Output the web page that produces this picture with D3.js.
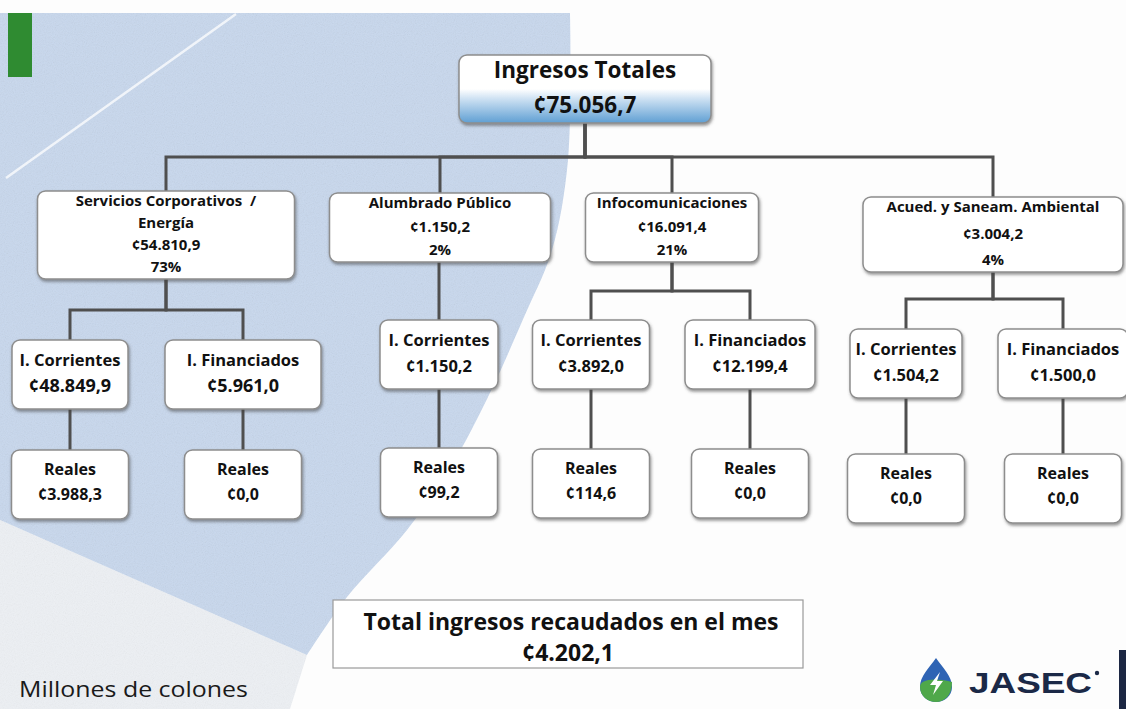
<!DOCTYPE html>
<html>
<head>
<meta charset="utf-8">
<script src="https://cdn.jsdelivr.net/npm/d3@7"></script>
<style>
  html, body { margin: 0; padding: 0; background: #fdfdfd; }
  svg { display: block; }
</style>
</head>
<body>
<svg id="chart"></svg>
<script>
var width = 1126;
var height = 709;

// ---- data (millones de colones) ----
var totalIngresos = 75056.7;
var totalRecaudado = 4202.1;

var groups = ["Servicios Corporativos  /\nEnergía", "Alumbrado Público", "Infocomunicaciones", "Acued. y Saneam. Ambiental"];
var groupTotals = [54810.9, 1150.2, 16091.4, 3004.2];
var groupShares = [73, 2, 21, 4];

var corrientes = [48849.9, 1150.2, 3892.0, 1504.2];
var financiados = [5961.0, null, 12199.4, 1500.0];     // null = no box
var realesCorrientes = [3988.3, 99.2, 114.6, 0.0];
var realesFinanciados = [0.0, null, 0.0, 0.0];

// ---- layout (kept apart from the data) ----
var root_box = { cx: 585, top: 55, w: 252, h: 68, barY: 157 };
var groupCx = [166, 440, 672, 993];
var groupW = [257, 221, 173, 260];
var groupTop = [191, 193, 193, 197];
var groupH = [88, 69, 69, 75];
var groupBarY = [310, null, 291, 299];
var leafCx = [[70, 243], [439], [591, 750], [906, 1063]];
var leafW = [[116, 156], [118], [117, 130], [112, 130]];
var leafTop = [340, 320, 320, 329];
var leafValueSize = [18, 16.5, 16.5, 16.5];
var realesTop = [450, 448, 449, 454];
var realesW = 117;
var boxH = 69;

var es = d3.formatLocale({ decimal: ",", thousands: ".", grouping: [3], currency: ["¢", ""] });
var money = es.format("$,.1f");

// build the tree from the arrays
var treeData = {
  kind: "root", lines: ["Ingresos Totales", money(totalIngresos)],
  children: groups.map(function(g, i) {
    var kids = [{ kind: "leaf", gi: i, li: 0, lines: ["I. Corrientes", money(corrientes[i])],
                  children: [{ kind: "reales", gi: i, li: 0, lines: ["Reales", money(realesCorrientes[i])] }] }];
    if (financiados[i] != null) {
      kids.push({ kind: "leaf", gi: i, li: 1, lines: ["I. Financiados", money(financiados[i])],
                  children: [{ kind: "reales", gi: i, li: 1, lines: ["Reales", money(realesFinanciados[i])] }] });
    }
    return { kind: "group", gi: i,
             lines: g.split("\n").concat([money(groupTotals[i]), groupShares[i] + "%"]),
             children: kids };
  })
};

var root = d3.hierarchy(treeData);

// place every node
root.each(function(n) {
  var d = n.data;
  if (d.kind === "root") {
    n.x = root_box.cx; n.y = root_box.top; n.w = root_box.w; n.h = root_box.h; n.barY = root_box.barY;
  } else if (d.kind === "group") {
    n.x = groupCx[d.gi]; n.y = groupTop[d.gi]; n.w = groupW[d.gi]; n.h = groupH[d.gi]; n.barY = groupBarY[d.gi];
  } else if (d.kind === "leaf") {
    n.x = leafCx[d.gi][d.li]; n.y = leafTop[d.gi]; n.w = leafW[d.gi][d.li]; n.h = boxH; n.barY = null;
  } else {
    n.x = leafCx[d.gi][d.li]; n.y = realesTop[d.gi]; n.w = realesW; n.h = boxH;
  }
});

var svg = d3.select("#chart").attr("width", width).attr("height", height);
var defs = svg.append("defs");

var shadow = defs.append("filter").attr("id", "shadow")
  .attr("x", "-10%").attr("y", "-10%").attr("width", "130%").attr("height", "140%");
shadow.append("feDropShadow").attr("dx", 1).attr("dy", 2).attr("stdDeviation", 1.4)
  .attr("flood-color", "#404040").attr("flood-opacity", 0.55);

var noise = defs.append("filter").attr("id", "noise").attr("x", 0).attr("y", 0).attr("width", "100%").attr("height", "100%");
noise.append("feTurbulence").attr("type", "fractalNoise").attr("baseFrequency", 0.9).attr("numOctaves", 2).attr("result", "t");
noise.append("feColorMatrix").attr("type", "saturate").attr("values", 0).attr("in", "t").attr("result", "g");
noise.append("feComposite").attr("in", "g").attr("in2", "SourceGraphic").attr("operator", "in");

var grad = defs.append("linearGradient").attr("id", "topgrad").attr("x1", 0).attr("y1", 0).attr("x2", 0).attr("y2", 1);
grad.append("stop").attr("offset", "0%").attr("stop-color", "#ffffff");
grad.append("stop").attr("offset", "50%").attr("stop-color", "#ffffff");
grad.append("stop").attr("offset", "64%").attr("stop-color", "#cfe2f3");
grad.append("stop").attr("offset", "100%").attr("stop-color", "#5f9fd3");

// ---- background ----
var line = d3.line().curve(d3.curveCatmullRom);
var blueEdge = [[570, 13], [568, 160], [552, 250], [524, 317], [488, 397], [453, 463], [407, 530], [347, 597], [307, 655]];

svg.append("rect").attr("width", width).attr("height", height).attr("fill", "#fdfdfd");
svg.append("path").attr("d", "M0,520L307,655L290,709L0,709Z").attr("fill", "#edf0f4");
var bluePath = "M0,13" + line(blueEdge).replace(/^M/, "L") + "L0,520Z";
svg.append("path").attr("d", bluePath).attr("fill", "#c8d8ee");
svg.append("path").attr("d", bluePath).attr("fill", "#fff").attr("filter", "url(#noise)").attr("opacity", 0.18);
svg.append("path").attr("d", "M0,709L0,520L307,655L290,709Z").attr("fill", "#fff").attr("filter", "url(#noise)").attr("opacity", 0.12);
svg.append("line").attr("x1", 6).attr("y1", 178).attr("x2", 236).attr("y2", 14)
  .attr("stroke", "#ffffff").attr("stroke-width", 2.5).attr("opacity", 0.75);
svg.append("rect").attr("x", 8).attr("y", 13).attr("width", 24).attr("height", 64).attr("fill", "#2f8b31");

// ---- connectors ----
var linkG = svg.append("g").attr("fill", "none").attr("stroke", "#4f4f4f").attr("stroke-width", 3);
root.links().forEach(function(l) {
  var s = l.source, t = l.target;
  var p = d3.path();
  p.moveTo(s.x, s.y + s.h);
  if (s.barY != null) {
    p.lineTo(s.x, s.barY);
    p.lineTo(t.x, s.barY);
  } else {
    p.lineTo(t.x, s.y + s.h);
  }
  p.lineTo(t.x, t.y);
  linkG.append("path").attr("d", p.toString());
});

// ---- boxes ----
var fontSize = { root: 22.5, group: 15, leaf: 16.5, reales: 16 };
var fontFamily = "'Open Sans', Lato, sans-serif";

var node = svg.selectAll("g.node")
  .data(root.descendants())
  .enter().append("g")
    .attr("class", "node")
    .attr("transform", function(d) { return "translate(" + (d.x - d.w / 2) + "," + d.y + ")"; });

node.append("rect")
  .attr("width", function(d) { return d.w; })
  .attr("height", function(d) { return d.h; })
  .attr("rx", 8)
  .attr("fill", function(d) { return d.data.kind === "root" ? "url(#topgrad)" : "#fff"; })
  .attr("stroke", "#8d8d8d")
  .attr("stroke-width", 1.5)
  .attr("filter", "url(#shadow)");

node.each(function(d) {
  var g = d3.select(this);
  var lines = d.data.lines;
  var kind = d.data.kind;
  var first, last;
  if (kind === "root") { first = 23; last = 58; }
  else if (kind === "group") { first = 15; last = d.h - 7; }
  else if (kind === "leaf") { first = 26; last = 52; }
  else { first = 25; last = 50; }
  var step = lines.length > 1 ? (last - first) / (lines.length - 1) : 0;
  lines.forEach(function(t, i) {
    var size = fontSize[kind];
    if (kind === "leaf" && i === 1) size = leafValueSize[d.data.gi];
    g.append("text")
      .attr("x", d.w / 2)
      .attr("y", first + i * step)
      .attr("text-anchor", "middle")
      .attr("font-family", fontFamily)
      .attr("font-weight", 700)
      .attr("font-size", size)
      .attr("fill", "#111")
      .style("white-space", "pre")
      .text(t);
  });
});

// ---- total recaudado ----
var tot = svg.append("g").attr("transform", "translate(333,600)");
tot.append("rect").attr("width", 470).attr("height", 68).attr("fill", "#fff")
  .attr("stroke", "#9a9a9a").attr("stroke-width", 1.2);
tot.append("text").attr("x", 238).attr("y", 30).attr("text-anchor", "middle")
  .attr("font-family", fontFamily).attr("font-weight", 700).attr("font-size", 23).attr("fill", "#111")
  .text("Total ingresos recaudados en el mes");
tot.append("text").attr("x", 235).attr("y", 61).attr("text-anchor", "middle")
  .attr("font-family", fontFamily).attr("font-weight", 700).attr("font-size", 23).attr("fill", "#111")
  .text(money(totalRecaudado));

svg.append("text").attr("x", 19).attr("y", 697)
  .attr("font-family", "'Open Sans', sans-serif").attr("font-size", 21).attr("fill", "#1a1a1a")
  .attr("textLength", 229).attr("lengthAdjust", "spacingAndGlyphs")
  .text("Millones de colones");

// ---- logo ----
var logo = svg.append("g").attr("transform", "translate(936,681)");
logo.append("path").attr("d", "M0,-23 C7,-13 16,-5 16,6 C16,15 8,21 0,21 C-8,21 -16,15 -16,6 C-16,-5 -7,-13 0,-23Z").attr("fill", "#2f64b4");
logo.append("path").attr("d", "M-16,6 C-16,-1 -4,-4 16,1 C16,15 8,21 0,21 C-8,21 -16,15 -16,6Z").attr("fill", "#4fa84a");
logo.append("path").attr("d", "M4,-9 L-6,4 L0,4 L-3,14 L7,0 L1,0 Z").attr("fill", "#fff");
svg.append("text").attr("x", 969).attr("y", 693)
  .attr("font-family", "'Liberation Sans', Arial, sans-serif").attr("font-weight", 700).attr("font-size", 30)
  .attr("textLength", 123).attr("lengthAdjust", "spacingAndGlyphs")
  .attr("fill", "#1b2947").text("JASEC");
svg.append("circle").attr("cx", 1097).attr("cy", 673).attr("r", 2.2).attr("fill", "#1b2947");
svg.append("rect").attr("x", 1119).attr("y", 650).attr("width", 7).attr("height", 59).attr("fill", "#1c2743");
</script>
</body>
</html>
